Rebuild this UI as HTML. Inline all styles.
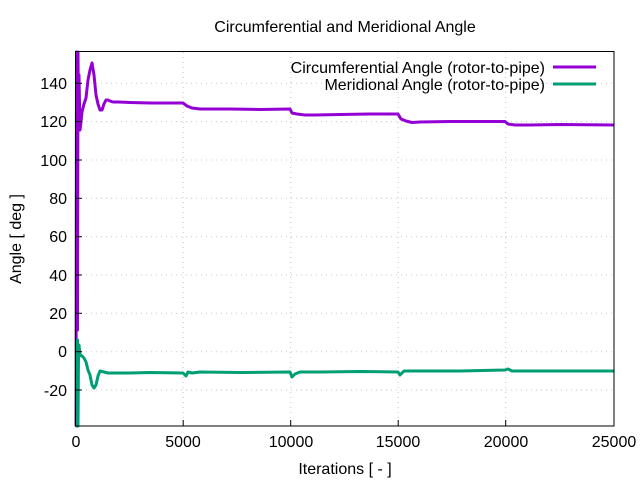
<!DOCTYPE html>
<html><head><style>body{margin:0;background:#fff}svg{display:block}</style></head><body>
<svg width="640" height="480" xmlns="http://www.w3.org/2000/svg" font-family="Liberation Sans, sans-serif" font-size="16">
<rect width="640" height="480" fill="#fff"/>
<g stroke="#c8c8c8" stroke-width="1" stroke-dasharray="1,4">
<line x1="183.2" y1="52" x2="183.2" y2="426"/><line x1="290.7" y1="52" x2="290.7" y2="426"/><line x1="398.2" y1="52" x2="398.2" y2="426"/><line x1="505.7" y1="52" x2="505.7" y2="426"/>
<line x1="76" y1="83.3" x2="614" y2="83.3"/><line x1="76" y1="121.6" x2="614" y2="121.6"/><line x1="76" y1="160" x2="614" y2="160"/><line x1="76" y1="198.3" x2="614" y2="198.3"/><line x1="76" y1="236.7" x2="614" y2="236.7"/><line x1="76" y1="275" x2="614" y2="275"/><line x1="76" y1="313.3" x2="614" y2="313.3"/><line x1="76" y1="351.7" x2="614" y2="351.7"/><line x1="76" y1="390" x2="614" y2="390"/>
</g>
<g fill="none" stroke-linejoin="round">
<polyline stroke="#9400d3" stroke-width="3" points="76,426 76.5,52 77,52 77.5,330 78,52 78.5,130 79,75 80,130 81,122 82,112 84,104 86,98 88,80 90,70 92,63 94,75 96,95 98,104 100,110 102,110 104,104 106,100 108,100 110,101 113,102 118,102 130,102.5 150,103 170,103 183,103 187,106 192,108 200,109 230,109 260,109.5 290,109 292,113 297,114 305,115 315,115 340,114.5 370,114 398,114 401,119 406,121 412,122.5 420,122 450,121.5 480,121.5 505,121.5 508,124 515,125 530,125 560,124.5 614,125"/>
<polyline stroke="#009e73" stroke-width="3" points="76,342 76.5,426 77,426 77.5,340 78,426 78.5,355 79,345 80,355 82,356 84,358 86,362 88,370 90,375 92,385 94,388 96,385 98,376 100,371 104,372 108,373 112,373 130,373 150,372.5 183,373 186,376 188,372 192,373 200,372 240,372.5 290,372 292,377 295,374 300,372 320,372 360,371.5 398,372 400,375 404,371 420,371 460,371 505,370 508,369 512,371 520,371 560,371 614,371"/>
</g>
<rect x="75.5" y="51.5" width="538.5" height="374.5" fill="none" stroke="#000" stroke-width="1"/>
<g stroke="#000">
<line x1="76" y1="83.3" x2="82" y2="83.3"/><line x1="76" y1="121.6" x2="82" y2="121.6"/><line x1="76" y1="160" x2="82" y2="160"/><line x1="76" y1="198.3" x2="82" y2="198.3"/><line x1="76" y1="236.7" x2="82" y2="236.7"/><line x1="76" y1="275" x2="82" y2="275"/><line x1="76" y1="313.3" x2="82" y2="313.3"/><line x1="76" y1="351.7" x2="82" y2="351.7"/><line x1="76" y1="390" x2="82" y2="390"/>
<line x1="183.2" y1="426" x2="183.2" y2="420"/><line x1="290.7" y1="426" x2="290.7" y2="420"/><line x1="398.2" y1="426" x2="398.2" y2="420"/><line x1="505.7" y1="426" x2="505.7" y2="420"/>
</g>
<g text-anchor="end" fill="#000">
<text x="67" y="89">140</text><text x="67" y="127">120</text><text x="67" y="166">100</text><text x="67" y="204">80</text><text x="67" y="242">60</text><text x="67" y="281">40</text><text x="67" y="319">20</text><text x="67" y="357">0</text><text x="67" y="396">-20</text>
</g>
<g text-anchor="middle" fill="#000">
<text x="76" y="447">0</text><text x="183" y="447">5000</text><text x="291" y="447">10000</text><text x="398" y="447">15000</text><text x="506" y="447">20000</text><text x="614" y="447">25000</text>
<text x="345" y="474">Iterations [ - ]</text>
<text x="345" y="32">Circumferential and Meridional Angle</text>
<text transform="translate(21,239) rotate(-90)">Angle [ deg ]</text>
</g>
<g text-anchor="end" fill="#000">
<text x="545" y="73">Circumferential Angle (rotor-to-pipe)</text>
<text x="545" y="90">Meridional Angle (rotor-to-pipe)</text>
</g>
<line x1="553" y1="67" x2="596" y2="67" stroke="#9400d3" stroke-width="3"/>
<line x1="553" y1="84" x2="596" y2="84" stroke="#009e73" stroke-width="3"/>
</svg>
</body></html>
